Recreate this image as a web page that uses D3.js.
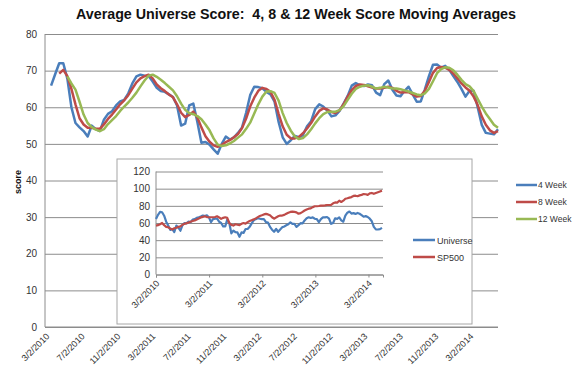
<!DOCTYPE html>
<html>
<head>
<meta charset="utf-8">
<script src="https://cdn.jsdelivr.net/npm/d3@7"></script>
<style>
  body { margin: 0; background: #fff; }
  svg { display: block; font-family: "Liberation Sans", Arial, sans-serif; }
</style>
</head>
<body>
<svg id="chart"></svg>
<script>
// weekly data, sampled every 2 weeks; week 0 = 3/2/2010
var firstDay = new Date(2010, 2, 2), lastDay = new Date(2014, 5, 10);

var mainTicks = ["3/2/2010","7/2/2010","11/2/2010","3/2/2011","7/2/2011","11/2/2011",
  "3/2/2012","7/2/2012","11/2/2012","3/2/2013","7/2/2013","11/2/2013","3/2/2014"];
var insetTicks = ["3/2/2010","3/2/2011","3/2/2012","3/2/2013","3/2/2014"];
var seriesNames = ["4 Week", "8 Week", "12 Week"];
var insetNames = ["Universe", "SP500"];

// first week of each moving average
var start4 = 3, start8 = 7, start12 = 11, startUni = 0;

var week4 = [65.9,69,72,72,67.8,60,55.7,54.5,53.5,52,55,54,53.5,56.6,58.2,58.9,60.5,61.6,62,63.8,
  66.5,68.4,68.9,68.6,68.5,67,65.3,64.4,64.2,63.5,62.8,60.5,55,55.5,60.5,61,56,50.3,50.5,49.8,
  48.5,47.3,50,52,51.2,51.8,53,54.5,58.5,63.3,65.6,65.5,65.2,64.2,63.5,61.5,56,51.8,50,51,
  52.2,51.8,52.4,54.8,56.2,59.5,60.8,60.2,59.1,57.5,57.8,59,61,63.1,65.9,66.6,66,65.8,66.2,66,
  64,63.3,66.3,67.3,64.8,63.2,63,64.5,65.6,63.5,61.5,61.6,64.9,68.5,71.6,71.7,70.8,71.3,70.2,68.5,
  66.9,65,62.9,64.5,64.5,60,55.2,53,52.8,52.6,54];

var week8 = [69.2,70.2,68.5,65,60.8,57,55.3,54.4,54.4,54.1,54.1,55.3,56.8,58,59.4,60.8,61.9,63.3,65.1,66.8,
  67.9,68.5,68.9,67.9,66.2,65.2,64.4,63.5,62.7,60.8,58.5,57.3,57.9,58.8,57.2,54.5,52.1,50.6,49.6,49.2,
  49.7,50.5,51,51.8,52.7,54.3,56.9,60.2,62.6,64.5,65.3,65,64.2,62,58.2,54.8,52.5,51.5,51.5,51.9,
  52.9,54.2,55.7,57.5,59,59.7,59.4,58.7,58.4,59.2,60.8,62.9,64.7,65.8,66.2,66.1,65.7,65.4,65.1,65.1,
  65.3,65.6,65.3,64.5,64,64.1,64.1,63.5,62.9,63.1,64.5,66.9,69.4,70.7,71,70.8,70.2,69.2,67.9,66.5,
  65.4,64.5,62.9,60.6,57.5,55.2,53.7,53,53.5];

var week12 = [68.4,66.5,64.8,61.5,58,55.7,54.6,53.9,53.5,54,55.4,56.5,57.6,59,60.2,61.3,62.6,64,65.7,67.3,
  68.6,68.9,68.3,67.5,66.6,65.6,64.6,63,61,59.3,58.4,58.1,57.6,56.7,55.3,53.7,51.5,49.8,49.4,49.6,
  50.1,50.8,51.7,52.6,54.1,55.8,58.3,60.8,62.9,64.3,64.4,63.9,61.8,58.4,55.7,53.6,52,51.3,51.6,52.6,
  54,55.6,57,58.1,58.7,58.8,58.8,59.2,60.3,62,63.7,65,65.6,65.9,66,65.6,65.1,65.3,65.6,65.4,
  65.1,65.1,64.9,64.6,64.3,63.9,63.5,63.3,63.8,65,67.1,69.3,70.4,70.9,70.8,70.1,68.9,67.5,66.3,65.7,
  64.4,62.3,60.2,58.3,56.8,55.2,54.4];

var universe = [64.8,69.5,73,72.5,68.5,61.5,57,52,53,49.5,57,54.5,51,57.5,60,59.5,61.7,61,64,64.5,
  66,66.7,67.5,68.7,68,69,66.5,61,64.5,65,65,61.5,60,56,56,64,60,48,51.2,49.3,
  49,44,49,48.5,53,53,55.5,59.5,63,64.5,65.5,65,64.5,64.5,61,60.5,55.5,52.2,49.8,53,
  49.8,52.5,55,56,57.3,58.5,60.8,59,59,55.5,57.5,59.8,59.5,63,65.5,66.7,65.8,66.5,65,64.5,
  61,64.5,66.5,66.5,67,65,59,60,65.5,64.8,66.5,63,61.5,68.7,72,73.3,71,71.5,70.6,71.7,
  70.8,69.2,67.3,68,67,65,62,55.5,52.6,52.4,52.8,54.3];

var sp500 = [57,57.5,58.5,60,57.5,55.5,55,53.5,52.5,53.9,54.5,55.5,56,58,59,59.8,60.5,61.5,62.3,63,
  64.2,65.3,66.5,67.2,67.8,66.9,66.7,66.7,66.7,67,67.8,66.5,64.8,66,66.7,66,60,57.8,57,58.5,
  58,57.5,59,60,59.3,61,62.3,63.3,64.2,65.4,66.8,68.2,69,70,70.6,70,69,66.7,65,66.5,
  67.8,68.7,68.7,69.5,70.8,72,72.9,73.3,73,72.4,70.8,71.5,73,74.6,75.8,76.7,77.1,78.5,79.5,79.5,
  79.8,80.3,80.3,80.5,81,81,81.2,83,84,83.8,86,84.5,86,88.2,88.8,89.5,90.2,91.5,91.8,91.2,
  92.2,92.8,93.7,93.5,92.8,94.5,95,94,95,95.9,96.8,97.7];

var colors = ["#4a7ebb", "#be4b48", "#98b954"];

var W = 574, H = 373;
var svg = d3.select("#chart").attr("width", W).attr("height", H);
var parse = d3.timeParse("%m/%d/%Y");
function weekDate(w) { return d3.timeDay.offset(firstDay, 7 * w); }
function toPoints(vals, startWeek) {
  return vals.map(function(v, i) { return { date: weekDate(startWeek + 2 * i), v: v }; });
}

// ---- main chart ----
var x = d3.scaleTime().domain([firstDay, lastDay]).range([45, 498]);
var y = d3.scaleLinear().domain([0, 80]).range([327, 34]);

svg.append("text")
  .attr("x", 296).attr("y", 19)
  .attr("text-anchor", "middle")
  .attr("font-size", 14).attr("font-weight", "bold").attr("fill", "#111")
  .attr("textLength", 440).attr("lengthAdjust", "spacingAndGlyphs")
  .style("white-space", "pre")
  .text("Average Universe Score:  4, 8 & 12 Week Score Moving Averages");

var yAxis = svg.append("g").attr("transform", "translate(45,0)")
  .call(d3.axisLeft(y).tickValues(d3.range(0, 81, 10)).tickSize(-453).tickPadding(8));
yAxis.select(".domain").remove();
yAxis.selectAll(".tick line").attr("stroke", "#8c8c8c");
yAxis.selectAll(".tick text").attr("font-size", 10).attr("fill", "#333");

svg.append("line").attr("x1", 45).attr("x2", 45).attr("y1", 34).attr("y2", 327).attr("stroke", "#8c8c8c");
svg.append("line").attr("x1", 45).attr("x2", 498).attr("y1", 327).attr("y2", 327).attr("stroke", "#8c8c8c");

svg.append("text")
  .attr("transform", "translate(21,182) rotate(-90)")
  .attr("text-anchor", "middle").attr("font-size", 9).attr("font-weight", "bold").attr("fill", "#111")
  .text("score");

svg.append("g").selectAll("text").data(mainTicks).enter().append("text")
  .attr("transform", function(d) { return "translate(" + (x(parse(d)) + 5) + ",337) rotate(-45)"; })
  .attr("text-anchor", "end").attr("font-size", 9).attr("fill", "#333")
  .text(function(d) { return d; });

var line = d3.line()
  .x(function(d) { return x(d.date); })
  .y(function(d) { return y(d.v); });

var mainSeries = [toPoints(week4, start4), toPoints(week8, start8), toPoints(week12, start12)];
svg.append("g").selectAll("path").data(mainSeries).enter().append("path")
  .attr("d", line)
  .attr("fill", "none")
  .attr("stroke", function(d, i) { return colors[i]; })
  .attr("stroke-width", 2.5)
  .attr("stroke-linejoin", "round");

var leg = svg.append("g").selectAll("g").data(seriesNames).enter().append("g")
  .attr("transform", function(d, i) { return "translate(516," + (185 + i * 17) + ")"; });
leg.append("line").attr("x1", 0).attr("x2", 21)
  .attr("stroke", function(d, i) { return colors[i]; }).attr("stroke-width", 2.5);
leg.append("text").attr("x", 22).attr("y", 3.2)
  .attr("font-size", 8.5).attr("fill", "#333")
  .text(function(d) { return d; });

// ---- inset chart ----
svg.append("rect").attr("x", 117).attr("y", 159).attr("width", 355).attr("height", 165)
  .attr("fill", "#fff").attr("stroke", "#a6a6a6");

var xi = d3.scaleTime().domain([firstDay, lastDay]).range([156, 383]);
var yi = d3.scaleLinear().domain([0, 120]).range([274.5, 171.5]);

var yiAxis = svg.append("g").attr("transform", "translate(156,0)")
  .call(d3.axisLeft(yi).tickValues(d3.range(0, 121, 20)).tickSize(-227).tickPadding(6));
yiAxis.select(".domain").remove();
yiAxis.selectAll(".tick line").attr("stroke", "#8c8c8c");
yiAxis.selectAll(".tick text").attr("font-size", 10).attr("fill", "#333");

svg.append("line").attr("x1", 156).attr("x2", 156).attr("y1", 171.5).attr("y2", 274.5).attr("stroke", "#8c8c8c");
var xiAxis = svg.append("g").attr("transform", "translate(0,274.5)")
  .call(d3.axisBottom(xi).tickValues(insetTicks.map(parse)).tickSize(3).tickFormat(""));
xiAxis.select(".domain").attr("stroke", "#8c8c8c");
xiAxis.selectAll(".tick line").attr("stroke", "#8c8c8c");

svg.append("g").selectAll("text").data(insetTicks).enter().append("text")
  .attr("transform", function(d) { return "translate(" + (xi(parse(d)) + 4) + ",284) rotate(-45)"; })
  .attr("text-anchor", "end").attr("font-size", 9).attr("fill", "#333")
  .text(function(d) { return d; });

var linei = d3.line()
  .x(function(d) { return xi(d.date); })
  .y(function(d) { return yi(d.v); });

var insetSeries = [toPoints(universe, startUni), toPoints(sp500, startUni)];
svg.append("g").selectAll("path").data(insetSeries).enter().append("path")
  .attr("d", linei)
  .attr("fill", "none")
  .attr("stroke", function(d, i) { return colors[i]; })
  .attr("stroke-width", 2.2)
  .attr("stroke-linejoin", "round");

var legi = svg.append("g").selectAll("g").data(insetNames).enter().append("g")
  .attr("transform", function(d, i) { return "translate(413," + (240 + i * 17) + ")"; });
legi.append("line").attr("x1", 0).attr("x2", 22)
  .attr("stroke", function(d, i) { return colors[i]; }).attr("stroke-width", 2.5);
legi.append("text").attr("x", 24).attr("y", 3.5).attr("font-size", 9).attr("fill", "#333")
  .text(function(d) { return d; });
</script>
</body>
</html>
